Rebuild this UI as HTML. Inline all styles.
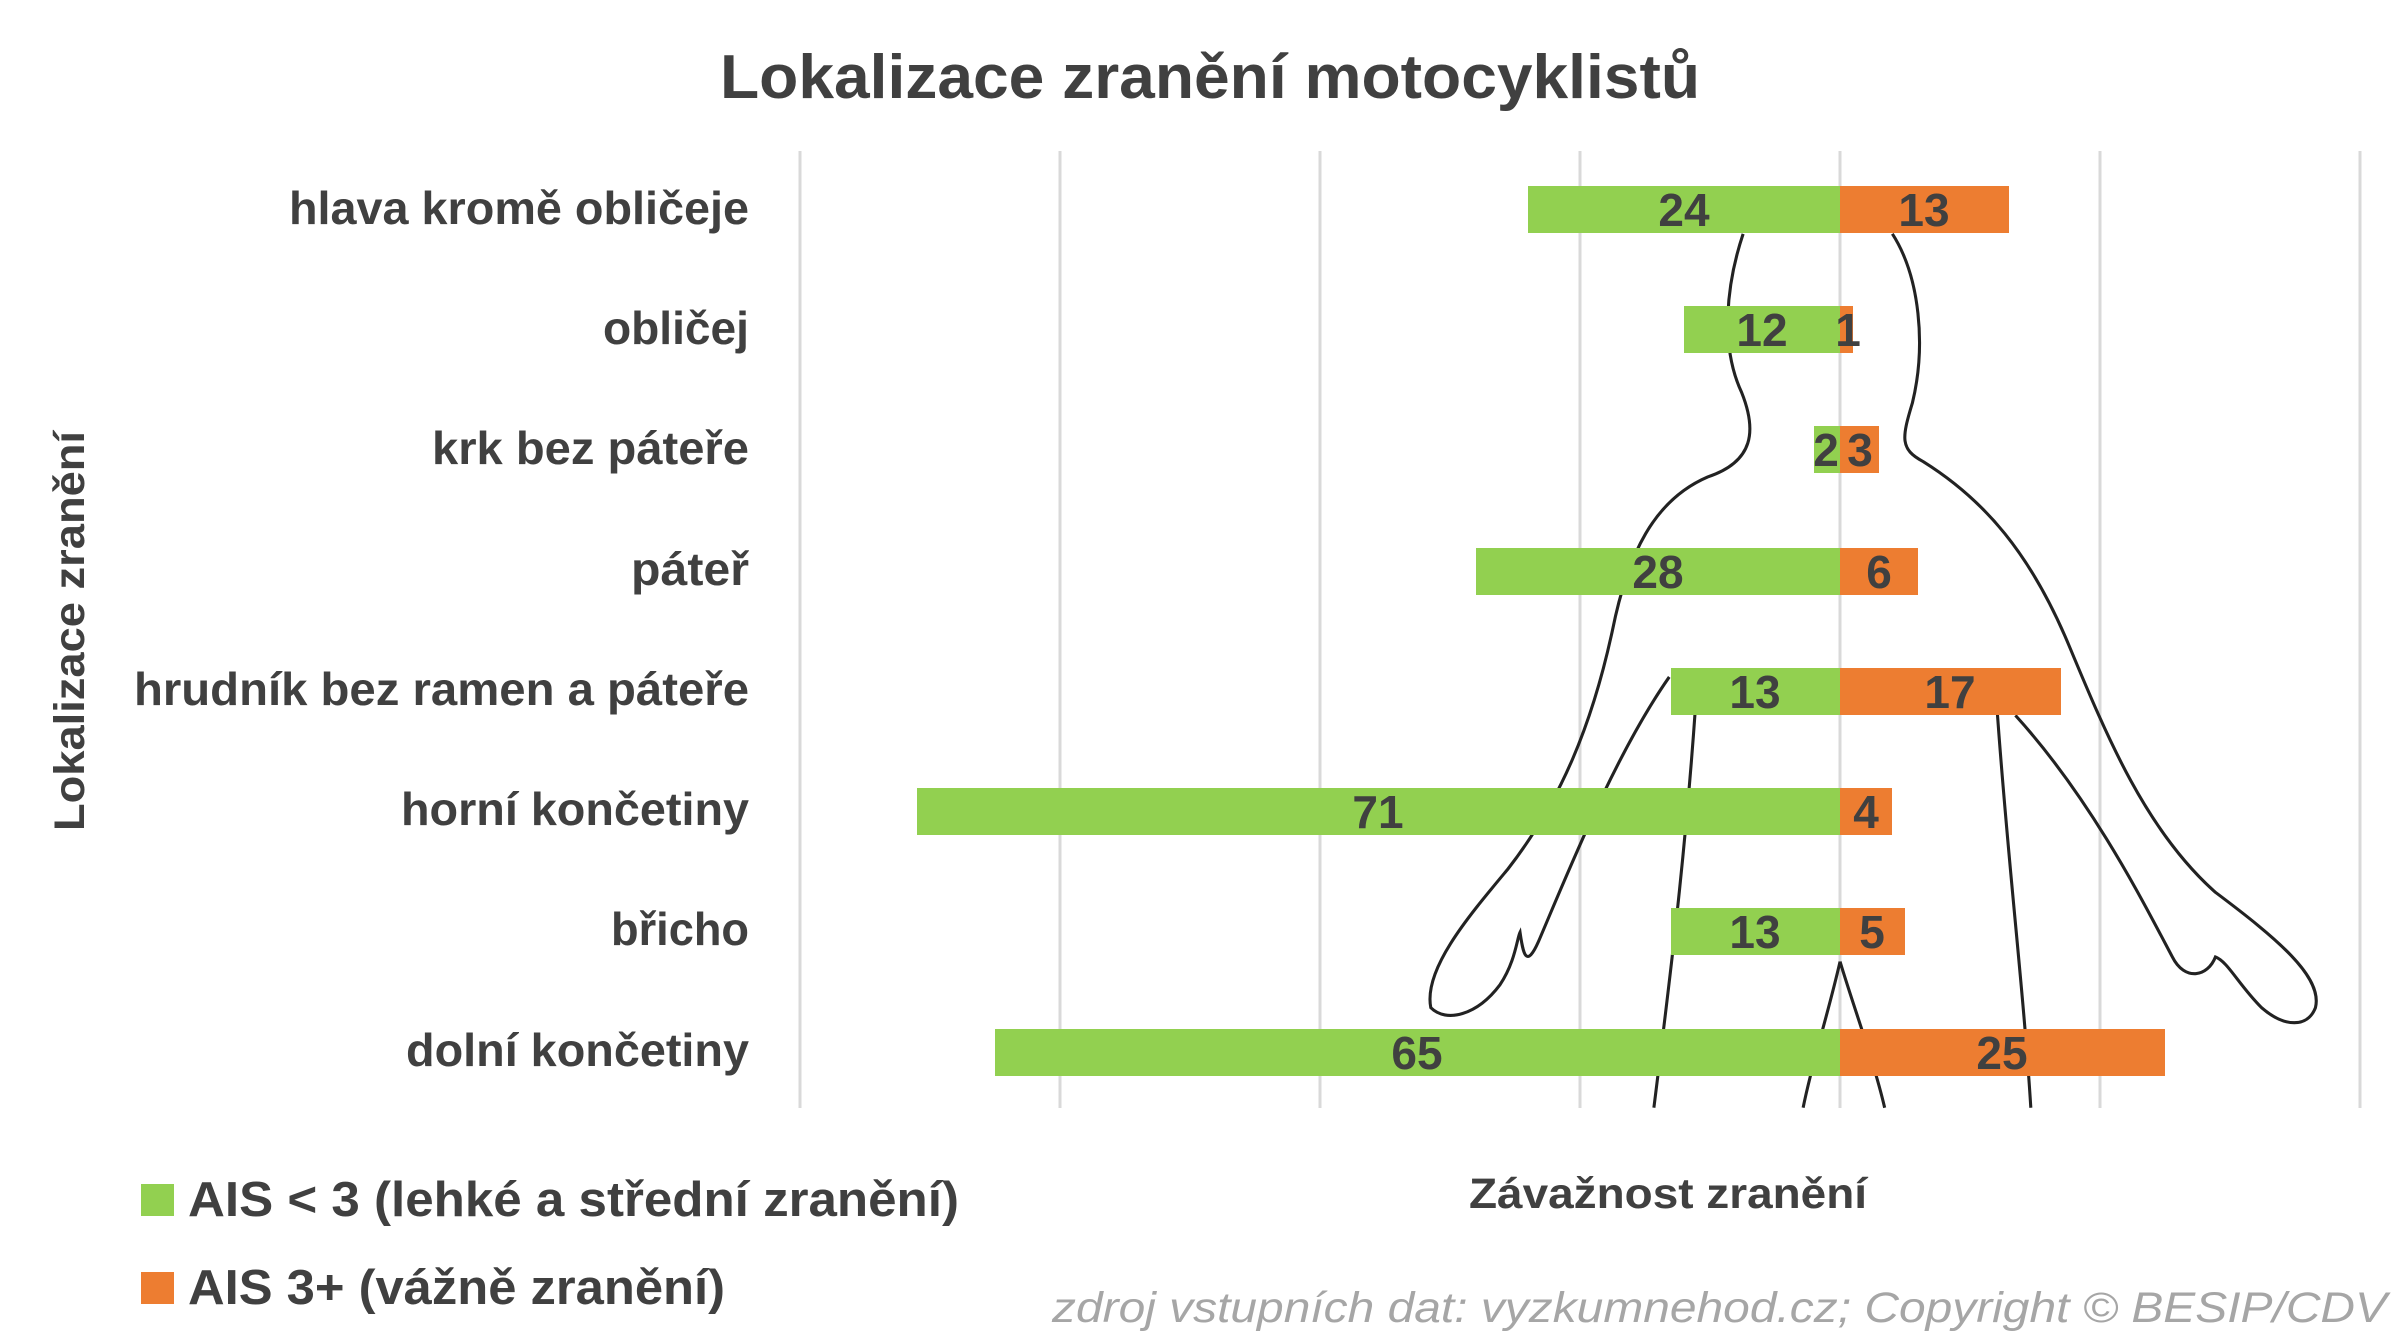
<!DOCTYPE html>
<html><head><meta charset="utf-8"><style>body{margin:0;background:#fff}svg{display:block}</style></head>
<body>
<svg width="2400" height="1342" viewBox="0 0 2400 1342" xmlns="http://www.w3.org/2000/svg" font-family="'Liberation Sans', sans-serif" font-weight="bold">
<rect width="2400" height="1342" fill="#fff"/>
<g stroke="#d9d9d9" stroke-width="3">
<line x1="800" y1="151" x2="800" y2="1108"/><line x1="1060" y1="151" x2="1060" y2="1108"/>
<line x1="1320" y1="151" x2="1320" y2="1108"/><line x1="1580" y1="151" x2="1580" y2="1108"/>
<line x1="1840" y1="151" x2="1840" y2="1108"/><line x1="2100" y1="151" x2="2100" y2="1108"/>
<line x1="2360" y1="151" x2="2360" y2="1108"/>
</g>
<g transform="scale(1.5385)" fill="none" stroke="#222" stroke-width="2">
<path d="M1133,152 C1122,185 1118,225 1132,255 C1142,280 1140,300 1110,310 C1075,325 1058,360 1048,410 C1035,470 1015,520 980,565 C955,595 925,630 930,655 C940,665 960,660 975,640 C985,625 986,610 988,606 C990,620 992,630 1000,612 C1020,565 1050,490 1085,440"/>
<path d="M1102,460 C1095,560 1085,640 1075,720"/>
<path d="M1230,152 C1248,180 1252,225 1243,262 C1236,285 1235,292 1250,300 C1290,325 1320,360 1345,420 C1370,480 1395,540 1440,580 C1480,610 1510,635 1505,655 C1500,668 1485,668 1470,655 C1455,640 1448,625 1440,622 C1435,635 1420,638 1412,622 C1395,590 1360,520 1310,465"/>
<path d="M1298,460 C1305,560 1315,640 1320,720"/>
<path d="M1196,625 C1188,660 1178,690 1172,720 M1196,625 C1205,655 1218,690 1225,720"/>
</g>
<g>
<rect x="1528" y="186" width="312" height="47" fill="#92d050"/><rect x="1840" y="186" width="169" height="47" fill="#ed7d31"/>
<rect x="1684" y="306" width="156" height="47" fill="#92d050"/><rect x="1840" y="306" width="13" height="47" fill="#ed7d31"/>
<rect x="1814" y="426" width="26" height="47" fill="#92d050"/><rect x="1840" y="426" width="39" height="47" fill="#ed7d31"/>
<rect x="1476" y="548" width="364" height="47" fill="#92d050"/><rect x="1840" y="548" width="78" height="47" fill="#ed7d31"/>
<rect x="1671" y="668" width="169" height="47" fill="#92d050"/><rect x="1840" y="668" width="221" height="47" fill="#ed7d31"/>
<rect x="917" y="788" width="923" height="47" fill="#92d050"/><rect x="1840" y="788" width="52" height="47" fill="#ed7d31"/>
<rect x="1671" y="908" width="169" height="47" fill="#92d050"/><rect x="1840" y="908" width="65" height="47" fill="#ed7d31"/>
<rect x="995" y="1029" width="845" height="47" fill="#92d050"/><rect x="1840" y="1029" width="325" height="47" fill="#ed7d31"/>
</g>
<g fill="#404040" font-size="46" text-anchor="middle">
<text x="1684" y="226">24</text><text x="1924" y="226">13</text>
<text x="1762" y="346">12</text><text x="1848" y="346">1</text>
<text x="1826" y="466">2</text><text x="1860" y="466">3</text>
<text x="1658" y="588">28</text><text x="1879" y="588">6</text>
<text x="1755" y="708">13</text><text x="1950" y="708">17</text>
<text x="1378" y="828">71</text><text x="1866" y="828">4</text>
<text x="1755" y="948">13</text><text x="1872" y="948">5</text>
<text x="1417" y="1069">65</text><text x="2002" y="1069">25</text>
</g>
<text x="720" y="98" font-size="62" fill="#404040" textLength="980" lengthAdjust="spacingAndGlyphs">Lokalizace zranění motocyklistů</text>
<g fill="#404040" font-size="46" text-anchor="end">
<text x="749" y="224" textLength="460" lengthAdjust="spacingAndGlyphs">hlava kromě obličeje</text>
<text x="749" y="344" textLength="146" lengthAdjust="spacingAndGlyphs">obličej</text>
<text x="749" y="464" textLength="317" lengthAdjust="spacingAndGlyphs">krk bez páteře</text>
<text x="749" y="585" textLength="118" lengthAdjust="spacingAndGlyphs">páteř</text>
<text x="749" y="705" textLength="615" lengthAdjust="spacingAndGlyphs">hrudník bez ramen a páteře</text>
<text x="749" y="825" textLength="348" lengthAdjust="spacingAndGlyphs">horní končetiny</text>
<text x="749" y="945" textLength="138" lengthAdjust="spacingAndGlyphs">břicho</text>
<text x="749" y="1066" textLength="343" lengthAdjust="spacingAndGlyphs">dolní končetiny</text>
</g>
<text transform="translate(84,831) rotate(-90)" font-size="43" fill="#404040" textLength="400" lengthAdjust="spacingAndGlyphs">Lokalizace zranění</text>
<rect x="141" y="1184" width="33" height="32" fill="#92d050"/>
<rect x="141" y="1272" width="33" height="32" fill="#ed7d31"/>
<text x="188" y="1216" font-size="49" fill="#404040" textLength="771" lengthAdjust="spacingAndGlyphs">AIS &lt; 3 (lehké a střední zranění)</text>
<text x="188" y="1304" font-size="49" fill="#404040" textLength="537" lengthAdjust="spacingAndGlyphs">AIS 3+ (vážně zranění)</text>
<text x="1469" y="1208" font-size="43" fill="#404040" textLength="398" lengthAdjust="spacingAndGlyphs">Závažnost zranění</text>
<text x="1052" y="1322" font-size="43" font-weight="normal" font-style="italic" fill="#a6a6a6" textLength="1335" lengthAdjust="spacingAndGlyphs">zdroj vstupních dat: vyzkumnehod.cz; Copyright © BESIP/CDV</text>
</svg>
</body></html>
